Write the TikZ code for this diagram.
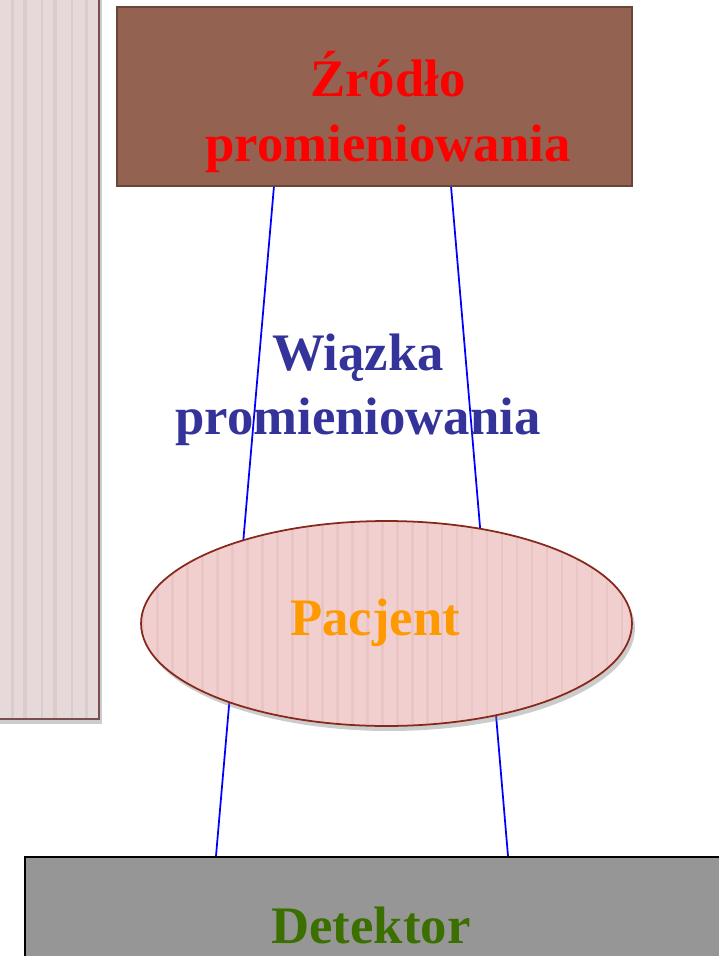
\documentclass[tikz,border=0pt]{standalone}
\usepackage{fontspec}
\setmainfont{Liberation Serif}
\usepackage{xcolor}
\usepackage{tikz}
\usetikzlibrary{shapes.geometric,shadows,positioning}

\definecolor{srcfill}{HTML}{936251}
\definecolor{srcdraw}{HTML}{6B4538}
\definecolor{panelfill}{HTML}{E6D9D9}
\definecolor{panelstripe}{HTML}{DCCBCB}
\definecolor{paneldraw}{HTML}{7A4E50}
\definecolor{patfill}{HTML}{F2CFCF}
\definecolor{patstripe}{HTML}{E9C5C5}
\definecolor{patdraw}{HTML}{86281A}
\definecolor{detfill}{HTML}{969696}
\definecolor{beamtext}{HTML}{333399}
\definecolor{pattext}{HTML}{FF9900}
\definecolor{dettext}{HTML}{3B7000}

\begin{document}
\begin{tikzpicture}[x=0.02cm,y=-0.02cm,
  big/.style={font=\fontsize{30}{36.5}\selectfont\bfseries,align=center,inner sep=0pt},
  beam/.style={blue,line width=1pt},
  shade/.style={drop shadow={shadow xshift=0.06cm,shadow yshift=-0.1cm,opacity=0.4}}]
  \useasboundingbox (0,0) rectangle (718,956);
  % side panel
  \fill[panelfill,shade] (-20,-20) rectangle (99,719);
  \foreach \s/\w in {12/3,25/4,42/2,55/4,72/2,86/3}
    \fill[panelstripe] (\s-\w/2,-20) rectangle (\s+\w/2,719);
  \draw[paneldraw,thick] (-20,-20) rectangle (99,719);
  % beam edges
  \coordinate (b1) at (274,186);
  \coordinate (b2) at (216,856);
  \coordinate (b3) at (451,186);
  \coordinate (b4) at (508,856);
  \draw[beam] (b1) -- (b2);
  \draw[beam] (b3) -- (b4);
  \node[draw=srcdraw,fill=srcfill,thick,minimum width=10.3cm,minimum height=3.58cm] (src) at (374.5,96.5) {};
  \node[big,red] (srctxt) at (388,112) {Źródło\\promieniowania};
  \node[big,beamtext] (beamtxt) at (358,390) {Wiązka\\promieniowania};
  \node[ellipse,draw=patdraw,fill=patfill,line width=1pt,shade,minimum width=9.82cm,minimum height=4.1cm,
    path picture={\foreach \i in {0,...,34}
      \fill[patstripe] ([xshift=\i*0.3cm]path picture bounding box.south west) rectangle ++(0.05cm,4.3cm);}] (pat) at (386.5,623.5) {};
  \node[big,pattext,anchor=base] (pattxt) at (375,635) {Pacjent};
  \node[draw=black,fill=detfill,line width=1pt,minimum width=14.4cm,minimum height=2.4cm,anchor=north west] (det) at (24,856) {};
  \node[big,dettext,anchor=base] (dettxt) at (371,943) {Detektor};
\end{tikzpicture}
\end{document}
